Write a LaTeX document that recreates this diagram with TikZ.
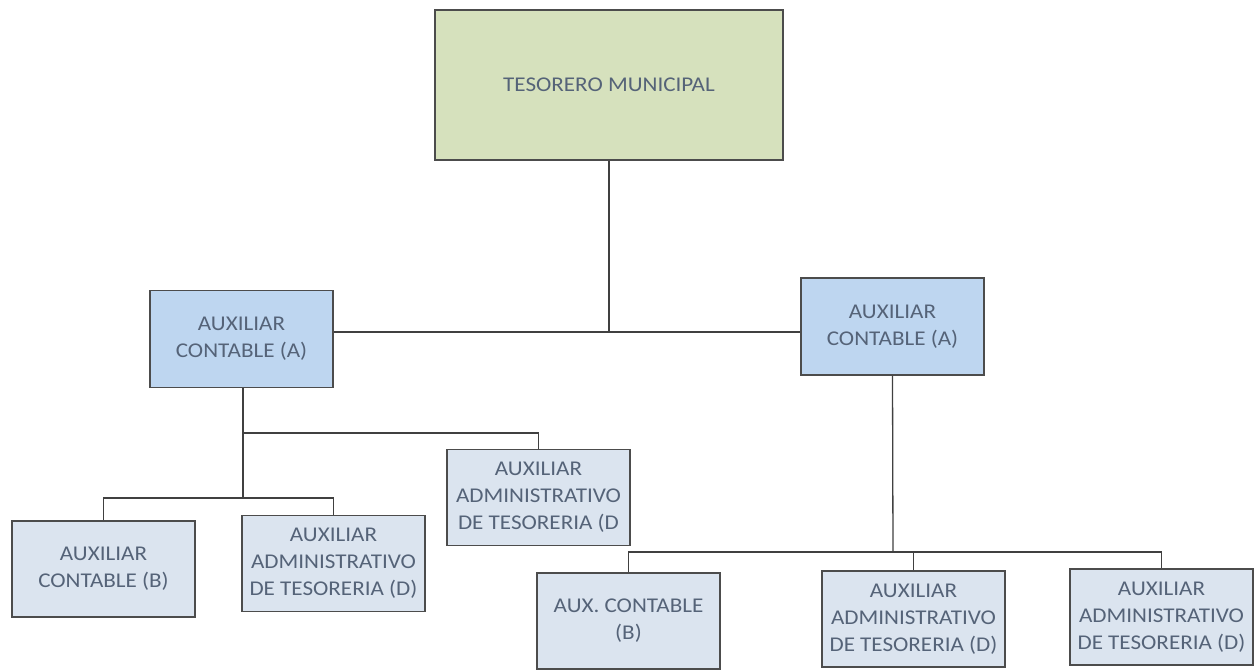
\documentclass[tikz,border=0pt]{standalone}
\usepackage{fontspec}
\setmainfont{Carlito}
\newfontfamily\boxfont[FakeStretch=1.1]{Carlito}
\begin{document}
\begin{tikzpicture}[x=1pt,y=-1pt,
  box/.style={draw=black!70,line width=1.4pt,inner sep=2pt,align=center,
    text=txt,font=\boxfont\fontsize{21}{27}\selectfont},
  top/.style={box,fill=topfill,minimum width=348pt,minimum height=150pt},
  mid/.style={box,fill=midfill,minimum width=183pt,minimum height=97pt},
  low/.style={box,fill=lowfill,minimum width=183pt,minimum height=96pt},
  wire/.style={draw=black!75,line width=1.3pt}]
\definecolor{topfill}{RGB}{214,225,189}
\definecolor{midfill}{RGB}{190,214,240}
\definecolor{lowfill}{RGB}{219,228,239}
\definecolor{txt}{RGB}{85,99,120}
\useasboundingbox (0,0) rectangle (1256,671);
\fill[white] (0,0) rectangle (1256,671);
\node[top] (t) at (609,85) {TESORERO MUNICIPAL};
\node[mid] (la) at (241.5,339) {AUXILIAR\\CONTABLE (A)};
\node[mid] (ra) at (892.5,326.5) {AUXILIAR\\CONTABLE (A)};
\node[low] (lb) at (103.5,569) {AUXILIAR\\CONTABLE (B)};
\node[low] (ld) at (333.5,563.5) {AUXILIAR\\ADMINISTRATIVO\\DE TESORERIA (D)};
\node[low] (md) at (538.5,497.5) {AUXILIAR\\ADMINISTRATIVO\\DE TESORERIA (D};
\node[low] (bb) at (628.5,621) {AUX. CONTABLE\\(B)};
\node[low] (bd) at (913.5,619) {AUXILIAR\\ADMINISTRATIVO\\DE TESORERIA (D)};
\node[low] (be) at (1161.5,617) {AUXILIAR\\ADMINISTRATIVO\\DE TESORERIA (D)};
\coordinate (j1) at (609,332);
\coordinate (j2) at (243,433);
\coordinate (j3) at (243,498);
\coordinate (j4) at (893,552);
\path[wire] (t.south) -- (j1);
\path[wire] (la.east |- j1) -- (j1) -- (ra.west |- j1);
\path[wire] (la.south -| j2) -- (j3);
\path[wire] (j2) -| (md.north);
\path[wire] (lb.north) |- (j3) -| (ld.north);
\path[wire] (ra.south) -- (j4);
\path[wire] (bb.north) |- (j4) -| (be.north);
\path[wire] (bd.north) -- (bd.north |- j4);
\end{tikzpicture}
\end{document}
